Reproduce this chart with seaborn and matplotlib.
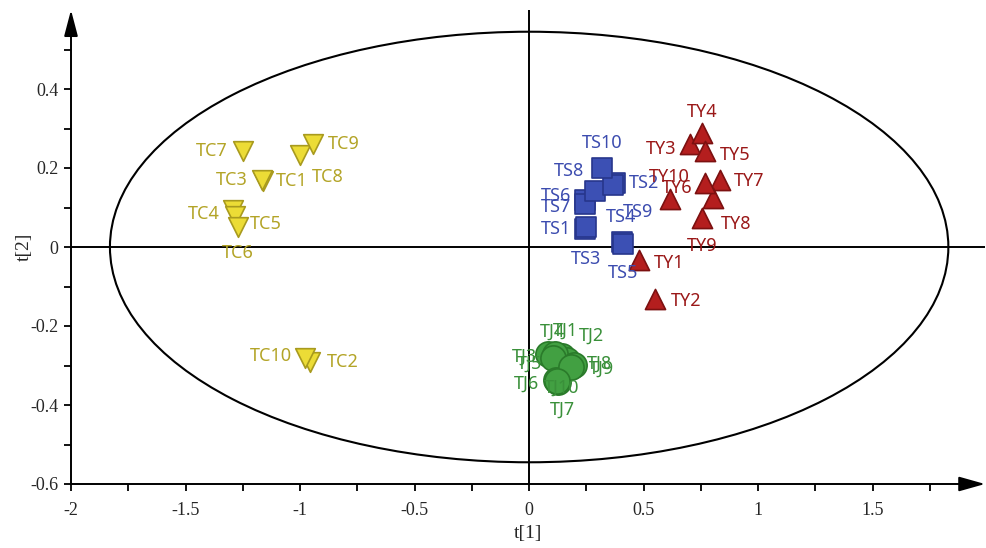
import matplotlib
matplotlib.use("Agg")
import matplotlib.pyplot as plt
import seaborn as sns
import pandas as pd
from matplotlib.patches import Ellipse

# Score coordinates (t[1], t[2]) per sample group
tc_names = ["TC1", "TC2", "TC3", "TC4", "TC5", "TC6", "TC7", "TC8", "TC9", "TC10"]
tc_t1 = [-1.162, -0.956, -1.166, -1.293, -1.284, -1.271, -1.249, -1.000, -0.943, -0.978]
tc_t2 = [0.168, -0.290, 0.170, 0.094, 0.079, 0.051, 0.244, 0.232, 0.262, -0.282]

ts_names = ["TS1", "TS2", "TS3", "TS4", "TS5", "TS6", "TS7", "TS8", "TS9", "TS10"]
ts_t1 = [0.245, 0.376, 0.250, 0.405, 0.410, 0.245, 0.245, 0.288, 0.367, 0.319]
ts_t2 = [0.046, 0.163, 0.050, 0.012, 0.008, 0.119, 0.109, 0.142, 0.158, 0.201]

ty_names = ["TY1", "TY2", "TY3", "TY4", "TY5", "TY6", "TY7", "TY8", "TY9", "TY10"]
ty_t1 = [0.480, 0.550, 0.703, 0.755, 0.769, 0.616, 0.834, 0.803, 0.755, 0.769]
ty_t2 = [-0.033, -0.132, 0.262, 0.288, 0.242, 0.122, 0.170, 0.125, 0.074, 0.163]

tj_names = ["TJ1", "TJ2", "TJ3", "TJ4", "TJ5", "TJ6", "TJ7", "TJ8", "TJ9", "TJ10"]
tj_t1 = [0.144, 0.166, 0.083, 0.114, 0.105, 0.118, 0.127, 0.197, 0.183, 0.122]
tj_t2 = [-0.275, -0.285, -0.270, -0.270, -0.280, -0.336, -0.343, -0.298, -0.303, -0.338]

# Hotelling's T2 (95%) ellipse semi-axes
t2_radius_t1 = 1.83
t2_radius_t2 = 0.545

# label offsets in pixels (dx right, dy down) relative to each marker
tc_offsets = [(29, 0), (33, 0), (-30, 0), (-29, 4), (31, 8), (0, 26),
              (-31, 0), (28, 22), (31, 0), (-34, -2)]
ts_offsets = [(-29, 0), (29, 0), (0, 32), (-1, -25), (0, 29), (-29, -4),
              (-29, 3), (-26, -20), (25, 27), (0, -25)]
ty_offsets = [(30, 3), (31, 2), (-29, 5), (0, -21), (30, 4), (7, -11),
              (29, 1), (23, 26), (0, 28), (-36, -6)]
tj_offsets = [(3, -25), (24, -24), (-24, 3), (-3, -22), (-24, 6), (-30, 4),
              (4, 27), (25, -1), (30, 2), (5, 7)]

groups = [
    dict(names=tc_names, t1=tc_t1, t2=tc_t2, off=tc_offsets, marker="v", s=200,
         face="#ecdc36", edge="#a89a1e", text="#b3a427"),
    dict(names=ts_names, t1=ts_t1, t2=ts_t2, off=ts_offsets, marker="s", s=200,
         face="#3c50b4", edge="#27368c", text="#3c4caf"),
    dict(names=ty_names, t1=ty_t1, t2=ty_t2, off=ty_offsets, marker="^", s=210,
         face="#b41e1e", edge="#7c1010", text="#9a1818"),
    dict(names=tj_names, t1=tj_t1, t2=tj_t2, off=tj_offsets, marker="o", s=330,
         face="#42a042", edge="#2a7a2a", text="#3a903a"),
]

sns.set_style("white")
plt.rcParams["font.family"] = ["Liberation Serif", "DejaVu Serif"]

fig = plt.figure(figsize=(9.86, 5.48), dpi=100)
ax = fig.add_axes([71 / 986, 64 / 548, 914 / 986, 474 / 548])
ax.set_xlim(-2.0, 1.99)
ax.set_ylim(-0.6, 0.6)

# T2 ellipse and origin lines
ax.add_patch(Ellipse((0, 0), 2 * t2_radius_t1, 2 * t2_radius_t2, fill=False,
                     edgecolor="black", lw=1.5, zorder=1))
ax.axhline(0, color="black", lw=1.4, zorder=1)
ax.axvline(0, color="black", lw=1.4, zorder=1)

px = 0.72  # points per pixel at 100 dpi
for g in groups:
    df = pd.DataFrame({"t1": g["t1"], "t2": g["t2"]})
    sns.scatterplot(data=df, x="t1", y="t2", marker=g["marker"], s=g["s"],
                    color=g["face"], edgecolor=g["edge"], linewidth=1.2,
                    ax=ax, zorder=3, legend=False)
    for name, x, y, (dx, dy) in zip(g["names"], g["t1"], g["t2"], g["off"]):
        ax.annotate(name, (x, y), xytext=(dx * px, -dy * px),
                    textcoords="offset points", ha="center", va="center",
                    color=g["text"], fontsize=13, family="Noto Sans", zorder=4)

# axes with arrow heads
for sp in ax.spines.values():
    sp.set_visible(False)
ax.annotate("", xy=(1.0, 0.0), xytext=(0.0, 0.0), xycoords="axes fraction",
            arrowprops=dict(arrowstyle="-|>,head_length=1.6,head_width=0.45",
                            color="black", lw=1.4, shrinkA=0, shrinkB=0))
ax.annotate("", xy=(0.0, 1.0), xytext=(0.0, 0.0), xycoords="axes fraction",
            arrowprops=dict(arrowstyle="-|>,head_length=1.6,head_width=0.42",
                            color="black", lw=1.4, shrinkA=0, shrinkB=0))

ax.set_xticks([-2, -1.5, -1, -0.5, 0, 0.5, 1, 1.5])
ax.set_xticklabels(["-2", "-1.5", "-1", "-0.5", "0", "0.5", "1", "1.5"])
ax.set_xticks([-1.75, -1.25, -0.75, -0.25, 0.25, 0.75, 1.25, 1.75], minor=True)
ax.set_yticks([-0.6, -0.4, -0.2, 0, 0.2, 0.4])
ax.set_yticklabels(["-0.6", "-0.4", "-0.2", "0", "0.2", "0.4"])
ax.set_yticks([-0.5, -0.3, -0.1, 0.1, 0.3, 0.5], minor=True)
ax.tick_params(which="both", direction="out", length=5, width=1.3, color="black",
               left=True, bottom=True, labelsize=13)
ax.tick_params(axis="x", pad=8)
ax.tick_params(axis="y", pad=4)

ax.set_xlabel("t[1]", fontsize=14, labelpad=4)
ax.set_ylabel("t[2]", fontsize=14, labelpad=-2)

fig.savefig("out.png", dpi=100, facecolor="white")
